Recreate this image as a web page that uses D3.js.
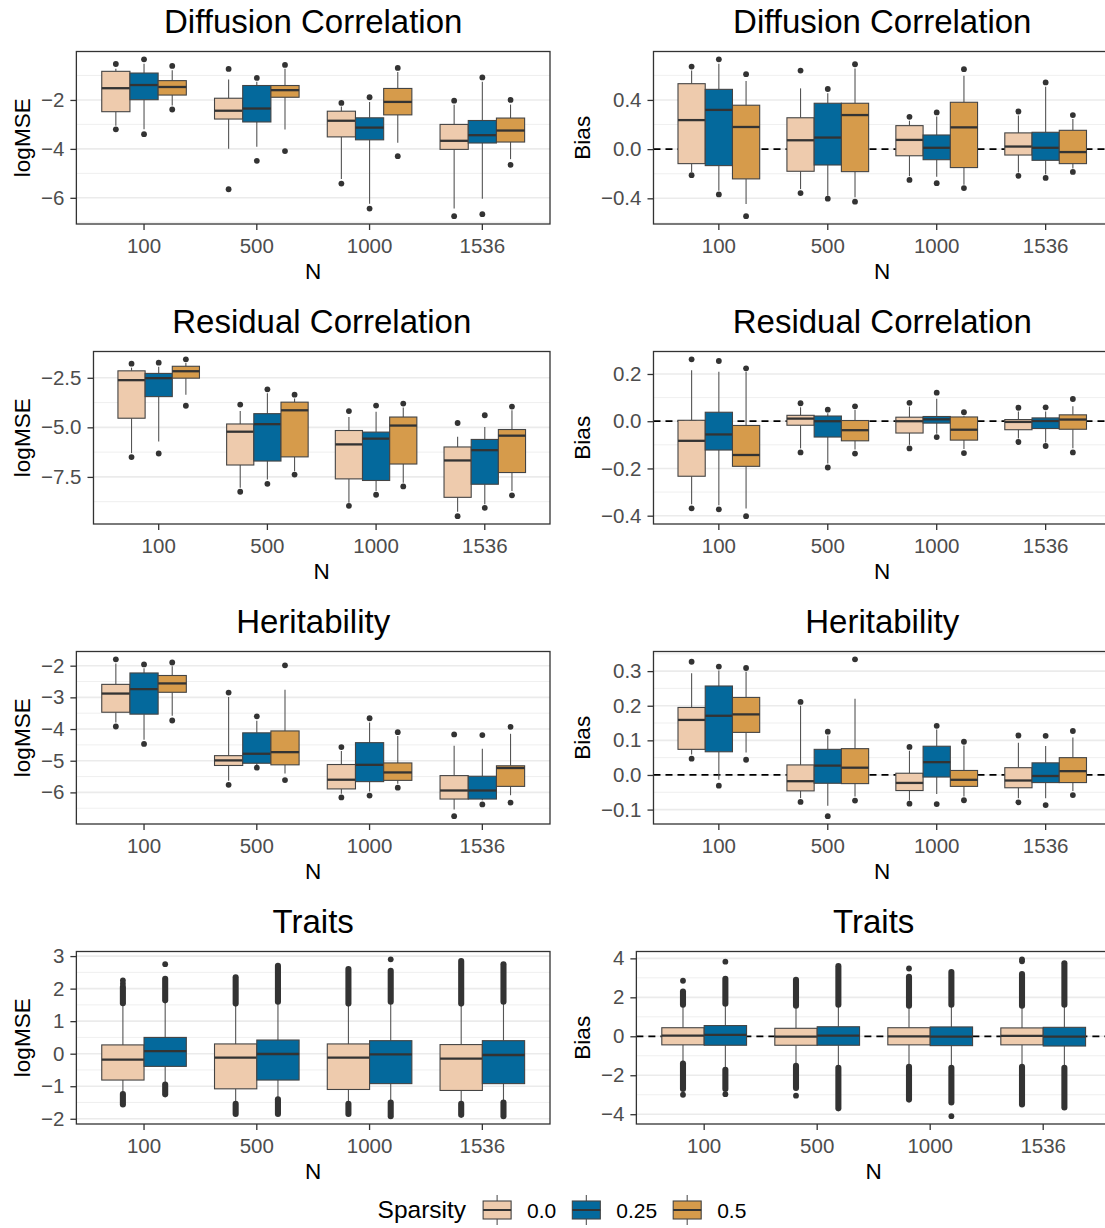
<!DOCTYPE html>
<html>
<head>
<meta charset="utf-8">
<script src="https://cdn.jsdelivr.net/npm/d3@7"></script>
<style>
  body { margin: 0; background: #fff; }
  svg { display: block; font-family: "Liberation Sans", Arial, Helvetica, sans-serif; }
</style>
</head>
<body>
<div id="chart"></div>
<script>
/* DATA */
const N_GROUPS = ["100", "500", "1000", "1536"];
const SPARSITY = ["0.0", "0.25", "0.5"];

// one row per box, ordered N then sparsity: [whiskerLow, q1, median, q3, whiskerHigh]
const diffMSE = [
  [-3.05, -2.48, -1.52, -0.83, -0.72], [-3.20, -1.99, -1.39, -0.90, -0.52], [-2.23, -1.80, -1.47, -1.21, -0.79],
  [-3.99, -2.78, -2.44, -1.93, -1.16], [-3.91, -2.90, -2.35, -1.41, -1.26], [-3.21, -1.89, -1.60, -1.41, -0.72],
  [-5.23, -3.51, -2.85, -2.46, -2.27], [-6.24, -3.63, -3.13, -2.73, -2.08], [-3.75, -2.61, -2.08, -1.53, -0.86],
  [-6.44, -4.02, -3.67, -3.00, -2.20], [-6.04, -3.76, -3.44, -2.84, -1.26], [-4.42, -3.72, -3.25, -2.74, -2.19]
];
const diffMSEOut = [
  [-3.20, -0.53], [-3.40, -0.34], [-2.39, -0.61],
  [-5.65, -0.73], [-4.49, -1.10], [-4.09, -0.57],
  [-5.42, -2.12], [-6.44, -1.89], [-4.30, -0.69],
  [-6.75, -2.03], [-6.67, -1.08], [-4.65, -2.00]
];

const diffBias = [
  [-0.185, -0.118, 0.236, 0.532, 0.640], [-0.338, -0.134, 0.319, 0.486, 0.695], [-0.446, -0.242, 0.180, 0.357, 0.553],
  [-0.325, -0.180, 0.072, 0.255, 0.494], [-0.379, -0.129, 0.094, 0.373, 0.454], [-0.392, -0.183, 0.277, 0.373, 0.655],
  [-0.220, -0.054, 0.075, 0.191, 0.231], [-0.225, -0.086, 0.011, 0.115, 0.266], [-0.290, -0.150, 0.177, 0.381, 0.596],
  [-0.190, -0.048, 0.021, 0.132, 0.274], [-0.204, -0.091, 0.011, 0.137, 0.507], [-0.158, -0.118, -0.024, 0.153, 0.244]
];
const diffBiasOut = [
  [-0.212, 0.671], [-0.368, 0.730], [-0.545, 0.609],
  [-0.357, 0.639], [-0.403, 0.489], [-0.427, 0.690],
  [-0.250, 0.263], [-0.277, 0.298], [-0.317, 0.650],
  [-0.217, 0.306], [-0.234, 0.542], [-0.185, 0.277]
];

const resMSE = [
  [-6.30, -4.54, -2.62, -2.15, -1.99], [-5.72, -3.45, -2.52, -2.28, -1.94], [-3.35, -2.52, -2.17, -1.92, -1.75],
  [-8.05, -6.90, -5.22, -4.83, -4.18], [-7.63, -6.70, -4.84, -4.31, -3.28], [-7.22, -6.49, -4.14, -3.73, -3.55],
  [-8.80, -7.60, -5.86, -5.16, -4.48], [-8.21, -7.68, -5.57, -5.24, -4.21], [-7.80, -6.85, -4.91, -4.48, -4.00],
  [-9.26, -8.53, -6.67, -5.99, -5.47], [-8.88, -7.87, -6.15, -5.61, -4.98], [-8.21, -7.28, -5.42, -5.11, -4.14]
];
const resMSEOut = [
  [-6.50, -1.79], [-6.32, -1.74], [-3.91, -1.57],
  [-8.25, -3.85], [-7.85, -3.08], [-7.38, -3.35],
  [-8.96, -4.18], [-8.40, -3.90], [-7.98, -3.80],
  [-9.48, -4.78], [-9.06, -4.39], [-8.43, -3.95]
];

const resBias = [
  [-0.352, -0.233, -0.083, 0.004, 0.216], [-0.356, -0.122, -0.056, 0.038, 0.209], [-0.370, -0.191, -0.143, -0.018, 0.209],
  [-0.115, -0.017, 0.011, 0.025, 0.059], [-0.179, -0.067, 0.000, 0.022, 0.034], [-0.120, -0.083, -0.038, 0.003, 0.048],
  [-0.100, -0.050, 0.000, 0.017, 0.062], [-0.053, -0.008, 0.008, 0.020, 0.095], [-0.118, -0.080, -0.036, 0.018, 0.021],
  [-0.073, -0.036, -0.003, 0.007, 0.041], [-0.090, -0.031, 0.001, 0.014, 0.041], [-0.114, -0.034, 0.007, 0.027, 0.063]
];
const resBiasOut = [
  [-0.369, 0.262], [-0.373, 0.255], [-0.402, 0.224],
  [-0.132, 0.076], [-0.196, 0.049], [-0.137, 0.063],
  [-0.115, 0.078], [-0.067, 0.121], [-0.135, 0.038],
  [-0.088, 0.057], [-0.105, 0.059], [-0.132, 0.094]
];

const herMSE = [
  [-3.79, -3.47, -2.88, -2.59, -1.93], [-4.34, -3.53, -2.74, -2.23, -2.08], [-3.58, -2.84, -2.56, -2.31, -2.02],
  [-5.63, -5.15, -4.99, -4.84, -2.99], [-5.16, -5.08, -4.78, -4.12, -3.74], [-5.40, -5.13, -4.73, -4.06, -2.76],
  [-6.04, -5.89, -5.60, -5.12, -4.69], [-5.97, -5.66, -5.13, -4.43, -3.79], [-5.73, -5.62, -5.37, -5.07, -4.22],
  [-6.54, -6.21, -5.94, -5.47, -4.53], [-6.25, -6.21, -5.94, -5.49, -4.62], [-6.09, -5.81, -5.23, -5.16, -4.15]
];
const herMSEOut = [
  [-3.92, -1.80], [-4.47, -1.96], [-3.73, -1.90],
  [-5.76, -2.85], [-5.22, -3.60], [-5.61, -1.99],
  [-6.16, -4.57], [-6.10, -3.66], [-5.85, -4.10],
  [-6.75, -4.17], [-6.38, -4.19], [-6.32, -3.93]
];

const herBias = [
  [0.059, 0.074, 0.159, 0.195, 0.294], [-0.014, 0.067, 0.171, 0.257, 0.302], [0.065, 0.123, 0.175, 0.224, 0.298],
  [-0.067, -0.046, -0.018, 0.029, 0.200], [-0.089, -0.024, 0.027, 0.074, 0.114], [-0.062, -0.025, 0.021, 0.076, 0.220],
  [-0.074, -0.045, -0.023, 0.005, 0.070], [-0.055, -0.006, 0.037, 0.083, 0.131], [-0.062, -0.033, -0.014, 0.013, 0.085],
  [-0.067, -0.037, -0.016, 0.021, 0.093], [-0.067, -0.022, -0.003, 0.035, 0.084], [-0.046, -0.022, 0.011, 0.050, 0.108]
];
const herBiasOut = [
  [0.047, 0.327], [-0.031, 0.313], [0.044, 0.309],
  [-0.078, 0.211], [-0.119, 0.125], [-0.074, 0.334],
  [-0.083, 0.081], [-0.084, 0.142], [-0.073, 0.096],
  [-0.079, 0.114], [-0.087, 0.113], [-0.058, 0.127]
];

// Traits only have sparsity 0.0 and 0.25
const traitMSE = [
  [-1.20, -0.81, -0.18, 0.27, 1.51], [-0.90, -0.39, 0.08, 0.50, 1.60],
  [-1.50, -1.08, -0.12, 0.30, 1.50], [-1.35, -0.81, -0.01, 0.42, 1.55],
  [-1.50, -1.10, -0.12, 0.30, 1.50], [-1.45, -0.92, -0.02, 0.40, 1.55],
  [-1.50, -1.13, -0.15, 0.28, 1.50], [-1.45, -0.92, -0.04, 0.40, 1.55]
];
// dense outlier runs [from, to]
const traitMSERuns = [
  [[-1.56, -1.24], [1.55, 2.05]], [[-1.25, -0.95], [1.64, 2.30]],
  [[-1.85, -1.54], [1.54, 2.35]], [[-1.85, -1.40], [1.60, 2.70]],
  [[-1.85, -1.54], [1.54, 2.60]], [[-1.92, -1.50], [1.60, 2.55]],
  [[-1.88, -1.54], [1.54, 2.85]], [[-1.92, -1.50], [1.60, 2.75]]
];
const traitMSEOut = [[2.15, 2.25], [2.75], [], [], [], [2.90], [], []];

const traitBias = [
  [-1.38, -0.44, 0.03, 0.44, 1.60], [-1.70, -0.46, 0.07, 0.55, 1.65],
  [-1.50, -0.46, -0.02, 0.41, 1.55], [-1.60, -0.46, 0.03, 0.49, 1.60],
  [-1.55, -0.44, 0.00, 0.44, 1.55], [-1.60, -0.48, -0.02, 0.48, 1.60],
  [-1.55, -0.44, 0.02, 0.43, 1.55], [-1.60, -0.50, -0.02, 0.46, 1.60]
];
const traitBiasRuns = [
  [[-2.70, -1.40], [1.62, 2.30]], [[-2.70, -1.72], [1.67, 2.95]],
  [[-2.65, -1.52], [1.57, 2.90]], [[-3.70, -1.62], [1.62, 3.60]],
  [[-3.25, -1.57], [1.57, 3.05]], [[-3.40, -1.62], [1.62, 3.30]],
  [[-3.50, -1.57], [1.57, 3.20]], [[-3.65, -1.62], [1.62, 3.75]]
];
const traitBiasOut = [[-3.0, 2.85], [-2.97, 3.83], [-3.05], [], [3.48], [-4.1], [3.85, 3.95], []];

/* LAYOUT AND STYLE */
const WIDTH = 1105, HEIGHT = 1228;
const ROW_H = 300;
const COL_LEFT = [0, 560];
const COL_RIGHT = [550, 1111];
const PANEL_TOP = 51.5, PANEL_BOTTOM = 224;
const FILLS = ["#EECBAD", "#04699C", "#D69B4B"];
const DARK = "#333333";
const TICK_FONT = 20.5, AXIS_FONT = 22.5, TITLE_FONT = 33, LEGEND_TITLE = 24.5, LEGEND_FONT = 21;
const POINT_R = 2.9;

const panels = [
  { row: 0, col: 0, title: "Diffusion Correlation", yLabel: "logMSE", stats: diffMSE, out: diffMSEOut,
    ticks: [-6, -4, -2], minor: [-7, -5, -3, -1], fmt: "d" },
  { row: 0, col: 1, title: "Diffusion Correlation", yLabel: "Bias", stats: diffBias, out: diffBiasOut,
    ticks: [-0.4, 0, 0.4], minor: [-0.6, -0.2, 0.2, 0.6], fmt: ".1f", zero: true },
  { row: 1, col: 0, title: "Residual Correlation", yLabel: "logMSE", stats: resMSE, out: resMSEOut,
    ticks: [-7.5, -5, -2.5], minor: [-8.75, -6.25, -3.75], fmt: ".1f" },
  { row: 1, col: 1, title: "Residual Correlation", yLabel: "Bias", stats: resBias, out: resBiasOut,
    ticks: [-0.4, -0.2, 0, 0.2], minor: [-0.3, -0.1, 0.1], fmt: ".1f", zero: true },
  { row: 2, col: 0, title: "Heritability", yLabel: "logMSE", stats: herMSE, out: herMSEOut,
    ticks: [-6, -5, -4, -3, -2], minor: [-6.5, -5.5, -4.5, -3.5, -2.5], fmt: "d" },
  { row: 2, col: 1, title: "Heritability", yLabel: "Bias", stats: herBias, out: herBiasOut,
    ticks: [-0.1, 0, 0.1, 0.2, 0.3], minor: [-0.05, 0.05, 0.15, 0.25, 0.35], fmt: ".1f", zero: true },
  { row: 3, col: 0, title: "Traits", yLabel: "logMSE", stats: traitMSE, out: traitMSEOut, runs: traitMSERuns,
    ticks: [-2, -1, 0, 1, 2, 3], minor: [-1.5, -0.5, 0.5, 1.5, 2.5], fmt: "d" },
  { row: 3, col: 1, title: "Traits", yLabel: "Bias", stats: traitBias, out: traitBiasOut, runs: traitBiasRuns,
    ticks: [-4, -2, 0, 2, 4], minor: [-3, -1, 1, 3], fmt: "d", zero: true }
];

/* HELPERS */
function textWidth(svg, str, size) {
  const t = svg.append("text").style("font-size", size + "px").text(str);
  const w = t.node().getComputedTextLength();
  t.remove();
  return w;
}

function getYDomain(p) {
  // ggplot style: data range expanded by 5% on each side
  const vals = p.stats.flat().concat(p.out.flat());
  if (p.runs) vals.push(...p.runs.flat(2));
  const [lo, hi] = d3.extent(vals);
  const pad = (hi - lo) * 0.05;
  return [lo - pad, hi + pad];
}

/* PLOT FUNCTIONS */
function drawPanel(svg, p) {
  const g = svg.append("g").attr("transform", `translate(0,${p.row * ROW_H})`);
  const fmt = d3.format(p.fmt);
  const labelW = d3.max(p.ticks, (t) => textWidth(svg, fmt(t), TICK_FONT));
  const x0 = COL_LEFT[p.col] + 53 + labelW;
  const x1 = COL_RIGHT[p.col];
  const nS = p.stats.length / N_GROUPS.length;
  const sparsity = SPARSITY.slice(0, nS);

  const x = d3.scaleBand().domain(N_GROUPS).range([x0, x1]).paddingInner(0).paddingOuter(0.1);
  const step = x.step();
  const inner = d3.scaleBand().domain(sparsity).range([0, step * 0.75]);
  const y = d3.scaleLinear().domain(getYDomain(p)).range([PANEL_BOTTOM, PANEL_TOP]);

  // panel background and grid
  g.append("rect").attr("x", x0).attr("y", PANEL_TOP)
    .attr("width", x1 - x0).attr("height", PANEL_BOTTOM - PANEL_TOP).attr("fill", "#fff");
  g.append("g").selectAll("line").data(p.minor).join("line")
    .attr("x1", x0).attr("x2", x1).attr("y1", (d) => y(d)).attr("y2", (d) => y(d))
    .attr("stroke", "#EBEBEB").attr("stroke-width", 0.8);
  g.append("g").selectAll("line").data(p.ticks).join("line")
    .attr("x1", x0).attr("x2", x1).attr("y1", (d) => y(d)).attr("y2", (d) => y(d))
    .attr("stroke", "#EBEBEB").attr("stroke-width", 1.6);

  if (p.zero) {
    g.append("line").attr("x1", x0).attr("x2", x1).attr("y1", y(0)).attr("y2", y(0))
      .attr("stroke", "#000").attr("stroke-width", 1.7).attr("stroke-dasharray", "7,5");
  }

  // boxes
  const boxes = p.stats.map((s, i) => {
    const n = N_GROUPS[Math.floor(i / nS)];
    const sp = sparsity[i % nS];
    const left = x(n) + step * 0.125 + inner(sp);
    return { s, i, left, w: inner.bandwidth(), cx: left + inner.bandwidth() / 2, fill: FILLS[i % nS] };
  });

  const bg = g.append("g").selectAll("g").data(boxes).join("g");
  bg.append("line").attr("x1", (d) => d.cx).attr("x2", (d) => d.cx)
    .attr("y1", (d) => y(d.s[0])).attr("y2", (d) => y(d.s[1]))
    .attr("stroke", "#555").attr("stroke-width", 1.1);
  bg.append("line").attr("x1", (d) => d.cx).attr("x2", (d) => d.cx)
    .attr("y1", (d) => y(d.s[3])).attr("y2", (d) => y(d.s[4]))
    .attr("stroke", "#555").attr("stroke-width", 1.1);
  bg.append("rect").attr("x", (d) => d.left).attr("width", (d) => d.w)
    .attr("y", (d) => y(d.s[3])).attr("height", (d) => y(d.s[1]) - y(d.s[3]))
    .attr("fill", (d) => d.fill).attr("stroke", "#444").attr("stroke-width", 1.1);
  bg.append("line").attr("x1", (d) => d.left).attr("x2", (d) => d.left + d.w)
    .attr("y1", (d) => y(d.s[2])).attr("y2", (d) => y(d.s[2]))
    .attr("stroke", DARK).attr("stroke-width", 2.3);
  if (p.runs) {
    bg.selectAll("line.run").data((d) => p.runs[d.i].map((r) => ({ r, cx: d.cx }))).join("line")
      .attr("class", "run").attr("x1", (d) => d.cx).attr("x2", (d) => d.cx)
      .attr("y1", (d) => y(d.r[0])).attr("y2", (d) => y(d.r[1]))
      .attr("stroke", DARK).attr("stroke-width", POINT_R * 2.1).attr("stroke-linecap", "round");
  }
  bg.selectAll("circle").data((d) => p.out[d.i].map((v) => ({ v, cx: d.cx }))).join("circle")
    .attr("cx", (d) => d.cx).attr("cy", (d) => y(d.v)).attr("r", POINT_R).attr("fill", DARK);

  // panel border
  g.append("rect").attr("x", x0).attr("y", PANEL_TOP)
    .attr("width", x1 - x0).attr("height", PANEL_BOTTOM - PANEL_TOP)
    .attr("fill", "none").attr("stroke", DARK).attr("stroke-width", 1.3);

  // axes
  const yAxis = g.append("g").attr("transform", `translate(${x0},0)`)
    .call(d3.axisLeft(y).tickValues(p.ticks).tickFormat(fmt).tickSize(6).tickPadding(6));
  const xAxis = g.append("g").attr("transform", `translate(0,${PANEL_BOTTOM})`)
    .call(d3.axisBottom(x).tickSize(6).tickPadding(8));
  [yAxis, xAxis].forEach((a) => {
    a.select(".domain").remove();
    a.selectAll(".tick line").attr("stroke", DARK).attr("stroke-width", 1.3);
    a.selectAll(".tick text").attr("fill", "#4D4D4D").style("font-size", TICK_FONT + "px")
      .style("font-family", null);
  });

  // titles
  const mid = (x0 + x1) / 2;
  g.append("text").attr("x", mid).attr("y", 33).attr("text-anchor", "middle")
    .style("font-size", TITLE_FONT + "px").text(p.title);
  g.append("text").attr("x", mid).attr("y", 279).attr("text-anchor", "middle")
    .style("font-size", AXIS_FONT + "px").text("N");
  g.append("text")
    .attr("transform", `translate(${COL_LEFT[p.col] + 30},${(PANEL_TOP + PANEL_BOTTOM) / 2}) rotate(-90)`)
    .attr("text-anchor", "middle").style("font-size", AXIS_FONT + "px").text(p.yLabel);
}

function drawLegend(svg) {
  const cy = 1210;
  const keyW = 28, keyH = 18;
  const titleW = textWidth(svg, "Sparsity", LEGEND_TITLE);
  const labW = SPARSITY.map((s) => textWidth(svg, s, LEGEND_FONT));
  const total = titleW + 17 + SPARSITY.length * (keyW + 16) + d3.sum(labW) + (SPARSITY.length - 1) * 16;
  let cx = 562 - total / 2;

  const g = svg.append("g");
  g.append("text").attr("x", cx).attr("y", cy + 8).style("font-size", LEGEND_TITLE + "px").text("Sparsity");
  cx += titleW + 17;
  SPARSITY.forEach((s, i) => {
    g.append("line").attr("x1", cx + keyW / 2).attr("x2", cx + keyW / 2)
      .attr("y1", cy - 15).attr("y2", cy + 15).attr("stroke", "#555").attr("stroke-width", 1.1);
    g.append("rect").attr("x", cx).attr("y", cy - keyH / 2).attr("width", keyW).attr("height", keyH)
      .attr("fill", FILLS[i]).attr("stroke", "#444").attr("stroke-width", 1.1);
    g.append("line").attr("x1", cx).attr("x2", cx + keyW).attr("y1", cy).attr("y2", cy)
      .attr("stroke", DARK).attr("stroke-width", 2);
    cx += keyW + 16;
    g.append("text").attr("x", cx).attr("y", cy + 7.5).style("font-size", LEGEND_FONT + "px").text(s);
    cx += labW[i] + 16;
  });
}

/* MAIN */
const svg = d3.select("#chart").append("svg").attr("width", WIDTH).attr("height", HEIGHT);
svg.append("rect").attr("width", WIDTH).attr("height", HEIGHT).attr("fill", "#fff");
panels.forEach((p) => drawPanel(svg, p));
drawLegend(svg);
</script>
</body>
</html>
